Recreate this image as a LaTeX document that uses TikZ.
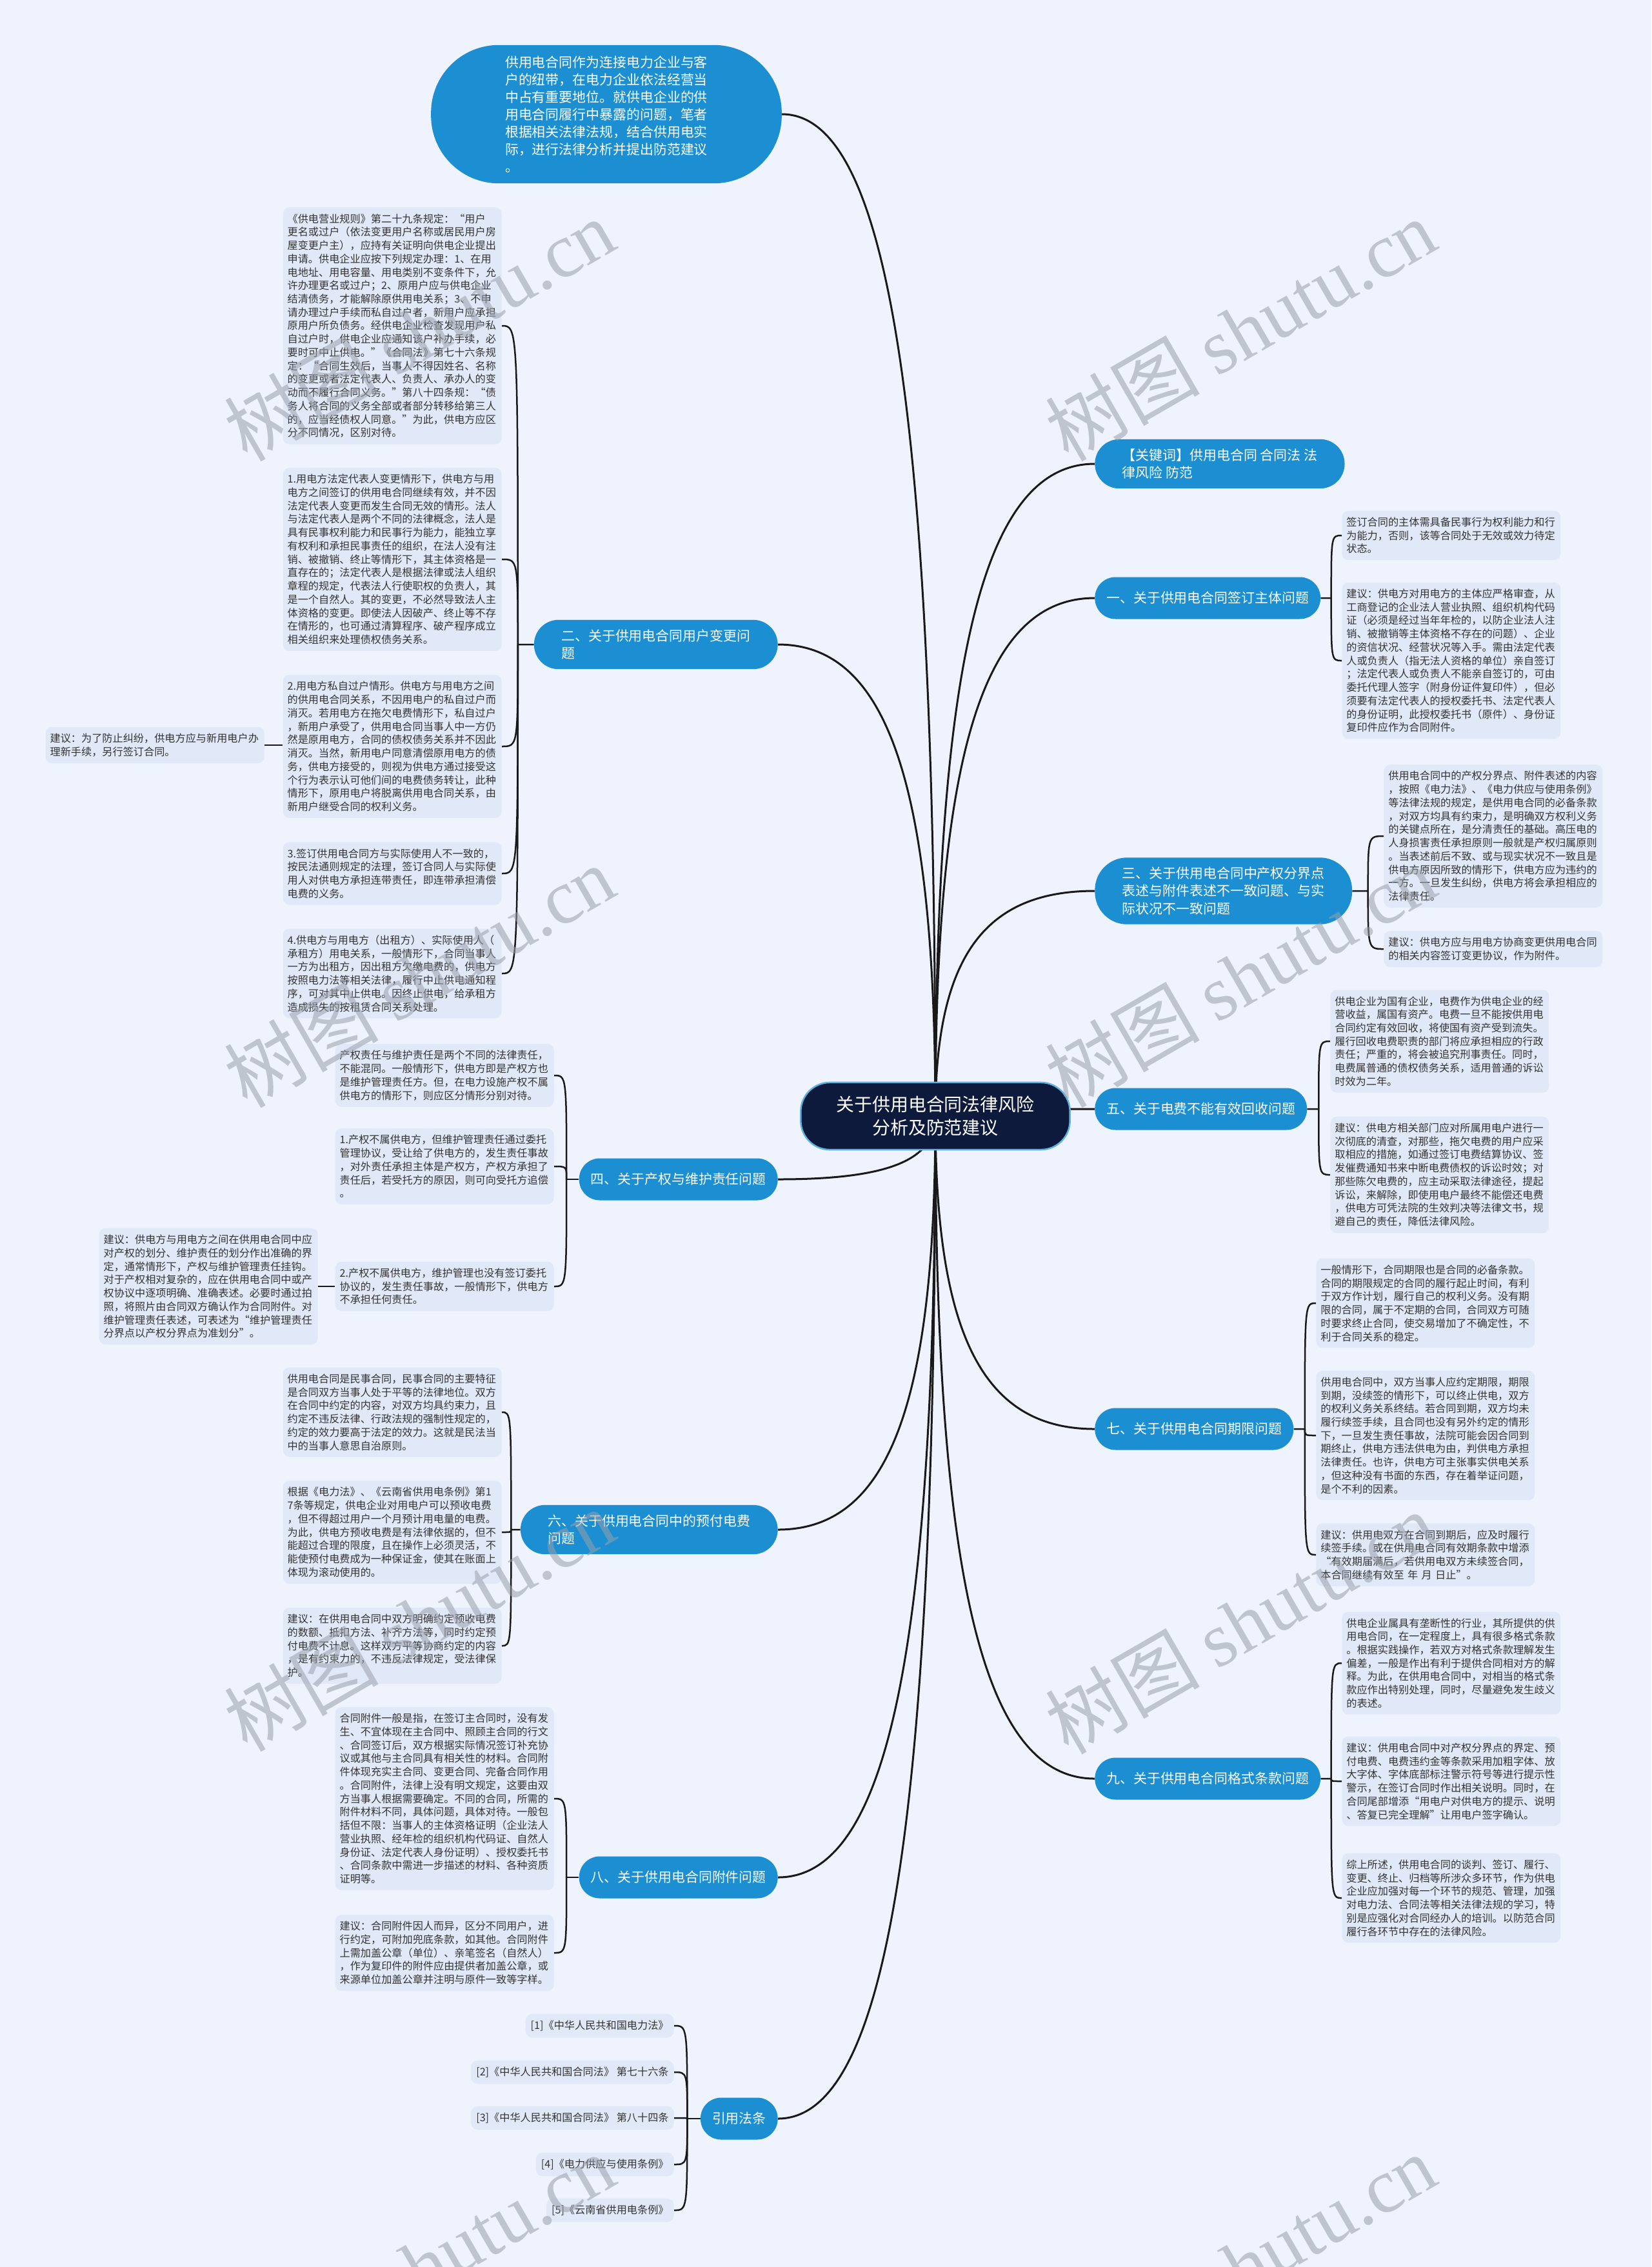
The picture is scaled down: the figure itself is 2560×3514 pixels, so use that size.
\documentclass[tikz,border=0pt]{standalone}
\usepackage{fontspec}
\setmainfont{Noto Sans CJK SC}
\newfontfamily\wmfont{Liberation Serif}
\usetikzlibrary{positioning, calc, backgrounds}
\definecolor{pageBg}{HTML}{EEF3FD}
\definecolor{noteFill}{HTML}{E1E9F8}
\definecolor{topicBlue}{HTML}{1B8FD2}
\definecolor{rootNavy}{HTML}{0E1A3C}
\definecolor{noteText}{HTML}{333333}
\definecolor{wmGray}{HTML}{9AA0AA}

\tikzset{
  note/.style={fill=noteFill, rounded corners=2mm, text width=65mm, align=left,
    inner xsep=1.4mm, inner ysep=2mm, text=noteText, font=\fontsize{9.2pt}{11.8pt}\selectfont},
  refnote/.style={fill=noteFill, rounded corners=2mm, inner xsep=1.6mm, inner ysep=2mm,
    text=noteText, font=\fontsize{9.2pt}{11.8pt}\selectfont},
  topic/.style={fill=topicBlue, text=white, rounded corners=6.4mm, minimum height=13mm,
    inner xsep=3.6mm, inner ysep=3mm, font=\fontsize{11.9pt}{15.4pt}\selectfont},
  topicwide/.style={topic, align=left, inner xsep=8.5mm, rounded corners=7.6mm},
  root/.style={fill=rootNavy, draw=topicBlue!70, line width=0.5mm, text=white, align=center,
    rounded corners=9mm, inner xsep=11mm, inner ysep=4.2mm, font=\fontsize{15.9pt}{20.5pt}\selectfont},
  trunk/.style={line width=0.6mm, draw=black!90},
  twig/.style={line width=0.5mm, draw=black!90},
  wmark/.style={rotate=30, text=wmGray, text opacity=0.55, font=\fontsize{68pt}{68pt}\selectfont}
}

\begin{document}
\begin{tikzpicture}[x=0.2mm, y=-0.2mm]
  \useasboundingbox (0,0) rectangle (2560,3514);

  % centre + intro
  \node[root] (root) at (1450,1730) {关于供用电合同法律风险\\分析及防范建议};
  \node[topic, align=left, rounded corners=21mm, inner xsep=23mm, inner ysep=3.3mm] (intro) at (940,177)
    {供用电合同作为连接电力企业与客\\户的纽带，在电力企业依法经营当\\中占有重要地位。就供电企业的供\\用电合同履行中暴露的问题，笔者\\根据相关法律法规，结合供用电实\\际，进行法律分析并提出防范建议\\。};

  % right branches
  \node[topicwide, anchor=west] (kw) at (1697,719) {【关键词】供用电合同 合同法 法\\律风险 防范};
  \node[topic, anchor=west] (t1) at (1697,927) {一、关于供用电合同签订主体问题};
  \node[topicwide, anchor=west, rounded corners=10mm] (t3) at (1697,1381) {三、关于供用电合同中产权分界点\\表述与附件表述不一致问题、与实\\际状况不一致问题};
  \node[topic, anchor=west] (t5) at (1697,1719) {五、关于电费不能有效回收问题};
  \node[topic, anchor=west] (t7) at (1697,2215) {七、关于供用电合同期限问题};
  \node[topic, anchor=west] (t9) at (1697,2757) {九、关于供用电合同格式条款问题};

  % left branches
  \node[topicwide, anchor=east] (t2) at (1206,999) {二、关于供用电合同用户变更问\\题};
  \node[topic, anchor=east] (t4) at (1206,1828) {四、关于产权与维护责任问题};
  \node[topicwide, anchor=east] (t6) at (1206,2371) {六、关于供用电合同中的预付电费\\问题};
  \node[topic, anchor=east] (t8) at (1206,2910) {八、关于供用电合同附件问题};
  \node[topic, anchor=east] (tref) at (1206,3284) {引用法条};

  % notes of 一
  \node[note, anchor=west] (s1a) at (2080,830) {签订合同的主体需具备民事行为权利能力和行\\为能力，否则，该等合同处于无效或效力待定\\状态。};
  \node[note, anchor=west] (s1b) at (2080,1024) {建议：供电方对用电方的主体应严格审查，从\\工商登记的企业法人营业执照、组织机构代码\\证（必须是经过当年年检的，以防企业法人注\\销、被撤销等主体资格不存在的问题）、企业\\的资信状况、经营状况等入手。需由法定代表\\人或负责人（指无法人资格的单位）亲自签订\\；法定代表人或负责人不能亲自签订的，可由\\委托代理人签字（附身份证件复印件），但必\\须要有法定代表人的授权委托书、法定代表人\\的身份证明，此授权委托书（原件）、身份证\\复印件应作为合同附件。};

  % notes of 三
  \node[note, anchor=west] (s3a) at (2145,1296) {供用电合同中的产权分界点、附件表述的内容\\，按照《电力法》、《电力供应与使用条例》\\等法律法规的规定，是供用电合同的必备条款\\，对双方均具有约束力，是明确双方权利义务\\的关键点所在，是分清责任的基础。高压电的\\人身损害责任承担原则一般就是产权归属原则\\。当表述前后不致、或与现实状况不一致且是\\供电方原因所致的情形下，供电方应为违约的\\一方。一旦发生纠纷，供电方将会承担相应的\\法律责任。};
  \node[note, anchor=west] (s3b) at (2145,1471) {建议：供电方应与用电方协商变更供用电合同\\的相关内容签订变更协议，作为附件。};

  % notes of 五
  \node[note, anchor=west] (s5a) at (2062,1614) {供电企业为国有企业，电费作为供电企业的经\\营收益，属国有资产。电费一旦不能按供用电\\合同约定有效回收，将使国有资产受到流失。\\履行回收电费职责的部门将应承担相应的行政\\责任；严重的，将会被追究刑事责任。同时，\\电费属普通的债权债务关系，适用普通的诉讼\\时效为二年。};
  \node[note, anchor=west] (s5b) at (2062,1821) {建议：供电方相关部门应对所属用电户进行一\\次彻底的清查，对那些，拖欠电费的用户应采\\取相应的措施，如通过签订电费结算协议、签\\发催费通知书来中断电费债权的诉讼时效；对\\那些陈欠电费的，应主动采取法律途径，提起\\诉讼，来解除，即使用电户最终不能偿还电费\\，供电方可凭法院的生效判决等法律文书，规\\避自己的责任，降低法律风险。};

  % notes of 七
  \node[note, anchor=west] (s7a) at (2040,2020) {一般情形下，合同期限也是合同的必备条款。\\合同的期限规定的合同的履行起止时间，有利\\于双方作计划，履行自己的权利义务。没有期\\限的合同，属于不定期的合同，合同双方可随\\时要求终止合同，使交易增加了不确定性，不\\利于合同关系的稳定。};
  \node[note, anchor=west] (s7b) at (2040,2225) {供用电合同中，双方当事人应约定期限，期限\\到期，没续签的情形下，可以终止供电，双方\\的权利义务关系终结。若合同到期，双方均未\\履行续签手续，且合同也没有另外约定的情形\\下，一旦发生责任事故，法院可能会因合同到\\期终止，供电方违法供电为由，判供电方承担\\法律责任。也许，供电方可主张事实供电关系\\，但这种没有书面的东西，存在着举证问题，\\是个不利的因素。};
  \node[note, anchor=west] (s7c) at (2040,2410) {建议：供用电双方在合同到期后，应及时履行\\续签手续。或在供用电合同有效期条款中增添\\“有效期届满后，若供用电双方未续签合同，\\本合同继续有效至 年 月 日止”。};

  % notes of 九
  \node[note, anchor=west] (s9a) at (2080,2578) {供电企业属具有垄断性的行业，其所提供的供\\用电合同，在一定程度上，具有很多格式条款\\。根据实践操作，若双方对格式条款理解发生\\偏差，一般是作出有利于提供合同相对方的解\\释。为此，在供用电合同中，对相当的格式条\\款应作出特别处理，同时，尽量避免发生歧义\\的表述。};
  \node[note, anchor=west] (s9b) at (2080,2761) {建议：供用电合同中对产权分界点的界定、预\\付电费、电费违约金等条款采用加粗字体、放\\大字体、字体底部标注警示符号等进行提示性\\警示，在签订合同时作出相关说明。同时，在\\合同尾部增添“用电户对供电方的提示、说明\\、答复已完全理解”让用电户签字确认。};
  \node[note, anchor=west] (s9c) at (2080,2942) {综上所述，供用电合同的谈判、签订、履行、\\变更、终止、归档等所涉众多环节，作为供电\\企业应加强对每一个环节的规范、管理，加强\\对电力法、合同法等相关法律法规的学习，特\\别是应强化对合同经办人的培训。以防范合同\\履行各环节中存在的法律风险。};

  % notes of 二
  \node[note, anchor=east] (s2a) at (778,505) {《供电营业规则》第二十九条规定：“用户\\更名或过户（依法变更用户名称或居民用户房\\屋变更户主），应持有关证明向供电企业提出\\申请。供电企业应按下列规定办理：1、在用\\电地址、用电容量、用电类别不变条件下，允\\许办理更名或过户；2、原用户应与供电企业\\结清债务，才能解除原供用电关系；3、不申\\请办理过户手续而私自过户者，新用户应承担\\原用户所负债务。经供电企业检查发现用户私\\自过户时，供电企业应通知该户补办手续，必\\要时可中止供电。”《合同法》第七十六条规\\定：“合同生效后，当事人不得因姓名、名称\\的变更或者法定代表人、负责人、承办人的变\\动而不履行合同义务。”第八十四条规：“债\\务人将合同的义务全部或者部分转移给第三人\\的，应当经债权人同意。”为此，供电方应区\\分不同情况，区别对待。};
  \node[note, anchor=east] (s2b) at (778,867) {1.用电方法定代表人变更情形下，供电方与用\\电方之间签订的供用电合同继续有效，并不因\\法定代表人变更而发生合同无效的情形。法人\\与法定代表人是两个不同的法律概念，法人是\\具有民事权利能力和民事行为能力，能独立享\\有权利和承担民事责任的组织，在法人没有注\\销、被撤销、终止等情形下，其主体资格是一\\直存在的；法定代表人是根据法律或法人组织\\章程的规定，代表法人行使职权的负责人，其\\是一个自然人。其的变更，不必然导致法人主\\体资格的变更。即使法人因破产、终止等不存\\在情形的，也可通过清算程序、破产程序成立\\相关组织来处理债权债务关系。};
  \node[note, anchor=east] (s2c) at (778,1157) {2.用电方私自过户情形。供电方与用电方之间\\的供用电合同关系，不因用电户的私自过户而\\消灭。若用电方在拖欠电费情形下，私自过户\\，新用户承受了，供用电合同当事人中一方仍\\然是原用电方，合同的债权债务关系并不因此\\消灭。当然，新用电户同意清偿原用电方的债\\务，供电方接受的，则视为供电方通过接受这\\个行为表示认可他们间的电费债务转让，此种\\情形下，原用电户将脱离供用电合同关系，由\\新用户继受合同的权利义务。};
  \node[note, anchor=east] (s2x) at (410,1155) {建议：为了防止纠纷，供电方应与新用电户办\\理新手续，另行签订合同。};
  \node[note, anchor=east] (s2d) at (778,1354) {3.签订供用电合同方与实际使用人不一致的，\\按民法通则规定的法理，签订合同人与实际使\\用人对供电方承担连带责任，即连带承担清偿\\电费的义务。};
  \node[note, anchor=east] (s2e) at (778,1509) {4.供电方与用电方（出租方）、实际使用人（\\承租方）用电关系，一般情形下，合同当事人\\一方为出租方，因出租方欠缴电费的，供电方\\按照电力法等相关法律，履行中止供电通知程\\序，可对其中止供电。因终止供电，给承租方\\造成损失的按租赁合同关系处理。};

  % notes of 四
  \node[note, anchor=east] (s4a) at (859,1667) {产权责任与维护责任是两个不同的法律责任，\\不能混同。一般情形下，供电方即是产权方也\\是维护管理责任方。但，在电力设施产权不属\\供电方的情形下，则应区分情形分别对待。};
  \node[note, anchor=east] (s4b) at (859,1808) {1.产权不属供电方，但维护管理责任通过委托\\管理协议，受让给了供电方的，发生责任事故\\，对外责任承担主体是产权方，产权方承担了\\责任后，若受托方的原因，则可向受托方追偿\\。};
  \node[note, anchor=east] (s4c) at (859,1994) {2.产权不属供电方，维护管理也没有签订委托\\协议的，发生责任事故，一般情形下，供电方\\不承担任何责任。};
  \node[note, anchor=east] (s4x) at (493,1994) {建议：供电方与用电方之间在供用电合同中应\\对产权的划分、维护责任的划分作出准确的界\\定，通常情形下，产权与维护管理责任挂钩。\\对于产权相对复杂的，应在供用电合同中或产\\权协议中逐项明确、准确表述。必要时通过拍\\照，将照片由合同双方确认作为合同附件。对\\维护管理责任表述，可表述为“维护管理责任\\分界点以产权分界点为准划分”。};

  % notes of 六
  \node[note, anchor=east] (s6a) at (778,2189) {供用电合同是民事合同，民事合同的主要特征\\是合同双方当事人处于平等的法律地位。双方\\在合同中约定的内容，对双方均具约束力，且\\约定不违反法律、行政法规的强制性规定的，\\约定的效力要高于法定的效力。这就是民法当\\中的当事人意思自治原则。};
  \node[note, anchor=east] (s6b) at (778,2375) {根据《电力法》、《云南省供用电条例》第1\\7条等规定，供电企业对用电户可以预收电费\\，但不得超过用户一个月预计用电量的电费。\\为此，供电方预收电费是有法律依据的，但不\\能超过合理的限度，且在操作上必须灵活，不\\能使预付电费成为一种保证金，使其在账面上\\体现为滚动使用的。};
  \node[note, anchor=east] (s6c) at (778,2551) {建议：在供用电合同中双方明确约定预收电费\\的数额、抵扣方法、补齐方法等，同时约定预\\付电费不计息。这样双方平等协商约定的内容\\，是有约束力的，不违反法律规定，受法律保\\护。};

  % notes of 八
  \node[note, anchor=east] (s8a) at (859,2788) {合同附件一般是指，在签订主合同时，没有发\\生、不宜体现在主合同中、照顾主合同的行文\\、合同签订后，双方根据实际情况签订补充协\\议或其他与主合同具有相关性的材料。合同附\\件体现充实主合同、变更合同、完备合同作用\\。合同附件，法律上没有明文规定，这要由双\\方当事人根据需要确定。不同的合同，所需的\\附件材料不同，具体问题，具体对待。一般包\\括但不限：当事人的主体资格证明（企业法人\\营业执照、经年检的组织机构代码证、自然人\\身份证、法定代表人身份证明）、授权委托书\\、合同条款中需进一步描述的材料、各种资质\\证明等。};
  \node[note, anchor=east] (s8b) at (859,3027) {建议：合同附件因人而异，区分不同用户，进\\行约定，可附加兜底条款，如其他。合同附件\\上需加盖公章（单位）、亲笔签名（自然人）\\，作为复印件的附件应由提供者加盖公章，或\\来源单位加盖公章并注明与原件一致等字样。};

  % cited laws
  \node[refnote, anchor=east] (r1) at (1045,3140) {[1]《中华人民共和国电力法》};
  \node[refnote, anchor=east] (r2) at (1045,3212) {[2]《中华人民共和国合同法》 第七十六条};
  \node[refnote, anchor=east] (r3) at (1045,3283) {[3]《中华人民共和国合同法》 第八十四条};
  \node[refnote, anchor=east] (r4) at (1045,3355) {[4]《电力供应与使用条例》};
  \node[refnote, anchor=east] (r5) at (1045,3426) {[5]《云南省供用电条例》};

  \begin{scope}[on background layer]
    \fill[pageBg] (0,0) rectangle (2560,3514);
    % root fan
    \foreach \t in {kw,t1,t3,t5,t7,t9}
      \draw[trunk] (root.center) .. controls ($(root.center)!0.7!(root.center |- \t.west)$)
        and ($(\t.west)!0.7!(root.center |- \t.west)$) .. (\t.west);
    \foreach \t in {intro,t2,t4,t6,t8,tref}
      \draw[trunk] (root.center) .. controls ($(root.center)!0.7!(root.center |- \t.east)$)
        and ($(\t.east)!0.7!(root.center |- \t.east)$) .. (\t.east);

    % right brackets
    \coordinate (j1) at ($(t1.east)!.5!(t1.east -| s1a.west)$);
    \draw[twig] (t1.east) -- (j1);
    \foreach \s in {s1a,s1b} \draw[twig] (j1) .. controls (j1 |- \s.west) .. (\s.west);
    \coordinate (j3) at ($(t3.east)!.5!(t3.east -| s3a.west)$);
    \draw[twig] (t3.east) -- (j3);
    \foreach \s in {s3a,s3b} \draw[twig] (j3) .. controls (j3 |- \s.west) .. (\s.west);
    \coordinate (j5) at ($(t5.east)!.5!(t5.east -| s5a.west)$);
    \draw[twig] (t5.east) -- (j5);
    \foreach \s in {s5a,s5b} \draw[twig] (j5) .. controls (j5 |- \s.west) .. (\s.west);
    \coordinate (j7) at ($(t7.east)!.5!(t7.east -| s7a.west)$);
    \draw[twig] (t7.east) -- (j7);
    \foreach \s in {s7a,s7b,s7c} \draw[twig] (j7) .. controls (j7 |- \s.west) .. (\s.west);
    \coordinate (j9) at ($(t9.east)!.5!(t9.east -| s9a.west)$);
    \draw[twig] (t9.east) -- (j9);
    \foreach \s in {s9a,s9b,s9c} \draw[twig] (j9) .. controls (j9 |- \s.west) .. (\s.west);

    % left brackets
    \coordinate (j2) at ($(t2.west)!.5!(t2.west -| s2a.east)$);
    \draw[twig] (t2.west) -- (j2);
    \foreach \s in {s2a,s2b,s2c,s2d,s2e} \draw[twig] (j2) .. controls (j2 |- \s.east) .. (\s.east);
    \coordinate (j4) at ($(t4.west)!.5!(t4.west -| s4a.east)$);
    \draw[twig] (t4.west) -- (j4);
    \foreach \s in {s4a,s4b,s4c} \draw[twig] (j4) .. controls (j4 |- \s.east) .. (\s.east);
    \coordinate (j6) at ($(t6.west)!.5!(t6.west -| s6a.east)$);
    \draw[twig] (t6.west) -- (j6);
    \foreach \s in {s6a,s6b,s6c} \draw[twig] (j6) .. controls (j6 |- \s.east) .. (\s.east);
    \coordinate (j8) at ($(t8.west)!.5!(t8.west -| s8a.east)$);
    \draw[twig] (t8.west) -- (j8);
    \foreach \s in {s8a,s8b} \draw[twig] (j8) .. controls (j8 |- \s.east) .. (\s.east);
    \coordinate (jr) at ($(tref.west)!.5!(tref.west -| r1.east)$);
    \draw[twig] (tref.west) -- (jr);
    \foreach \s in {r1,r2,r3,r4,r5} \draw[twig] (jr) .. controls (jr |- \s.east) .. (\s.east);

    % side suggestions
    \draw[twig] (s2x.east) -- (s2x.east -| s2c.west);
    \draw[twig] (s4x.east) -- (s4x.east -| s4c.west);
  \end{scope}

  % watermark
  \foreach \wx/\wy in {650/511, 1923/511, 650/1513, 1923/1513, 650/2511, 1923/2515, 650/3511, 1923/3511}
    \node[wmark] (wm-\wx-\wy) at (\wx,\wy) {树图 {\wmfont shutu.cn}};
\end{tikzpicture}
\end{document}
